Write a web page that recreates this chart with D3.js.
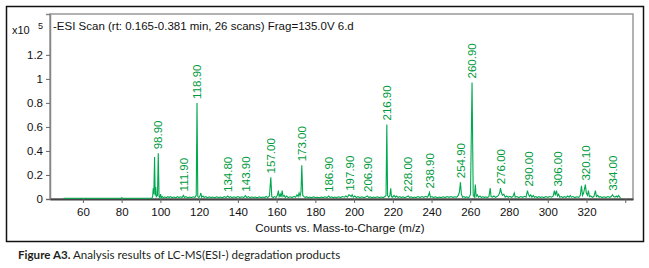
<!DOCTYPE html>
<html>
  <head>
    <meta charset="utf-8" />
    <title>LC-MS(ESI-) spectrum</title>
    <style>
      body { margin: 0; background: #fff; }
      svg text { font-family: Arial, "Liberation Sans", sans-serif; }
      .caption text { font-family: Lato, "Open Sans", sans-serif; }
    </style>
  </head>
  <body>
    <div id="chart-area"></div>

    <script type="text/javascript" src="https://d3js.org/d3.v7.min.js"></script>
    <script>
      // spectrum points (counts x10^5)
      const mz = [
        50, 79.8, 80.1, 80.4, 95.6, 96.0, 96.3, 96.6, 97.0, 97.3, 97.6, 97.9, 98.5, 98.9, 99.3, 99.7,
        100.1, 100.5, 101, 101.6, 102.3, 103, 103.8, 104.5, 105.2, 106, 107, 108, 108.8, 109.6, 110.5,
        111.2, 111.9, 112.4, 113.2, 114, 115, 116, 117, 117.8, 118.5, 118.9, 119.3, 119.9, 120.5, 120.9,
        121.3, 122, 122.6, 123.5, 124.3, 125.2, 126, 127, 128, 129, 130, 131, 132, 133, 133.8, 134.8,
        135.5, 136.3, 137, 138, 139, 140, 141, 142, 143, 143.9, 144.6, 145.5, 146.3, 147.2, 148, 149,
        150, 151, 152, 153, 153.8, 154.6, 155.4, 156.3, 157.0, 157.5, 158.2, 159, 159.7, 160.4, 160.9,
        161.3, 161.9, 162.3, 162.9, 163.3, 163.9, 164.5, 165.2, 166, 167, 168, 169, 169.8, 170.5, 171.1,
        171.6, 172.1, 172.6, 173.0, 173.5, 174.1, 174.8, 175.5, 176.3, 177, 178, 179, 180, 181, 182,
        183, 184, 185, 186, 186.9, 187.6, 188.4, 189.2, 190, 191, 192, 193, 194, 195, 195.8, 196.6,
        197.3, 197.9, 198.5, 199, 199.6, 200.4, 201.2, 202, 203, 204, 205, 206, 206.9, 207.6, 208.4,
        209.2, 210, 211, 212, 213, 214, 215, 216, 216.5, 216.9, 217.3, 217.9, 218.5, 218.9, 219.3,
        219.9, 220.6, 221.3, 222, 222.8, 223.6, 224.4, 225.2, 226, 227, 228, 228.7, 229.5, 230.3, 231,
        232, 233, 234, 235, 236, 237, 237.8, 238.4, 238.9, 239.4, 240.2, 241, 242, 243, 244, 245, 246,
        247, 248, 249, 250, 251, 252, 253, 253.8, 254.4, 254.9, 255.4, 256, 256.7, 257.5, 258.2, 259,
        259.6, 260.1, 260.9, 261.5, 262.1, 262.6, 263.0, 263.6, 264.2, 265, 265.7, 266.5, 267.3, 268,
        268.8, 269.6, 270.3, 270.7, 271.4, 272.2, 273, 273.8, 274.5, 275.1, 275.6, 276.1, 276.6, 277.3,
        278, 278.8, 279.6, 280.4, 281.2, 282, 282.7, 283.2, 284, 285, 286, 287, 288, 288.8, 289.5, 290,
        290.6, 291.2, 291.8, 292.5, 293.1, 293.8, 294.6, 295.4, 296.2, 297, 298, 299, 300, 301, 302,
        302.8, 303.4, 303.9, 304.5, 305, 305.6, 306.2, 307, 307.8, 308.6, 309.4, 310.2, 311, 311.6,
        312.2, 313, 314, 315, 316, 316.8, 317.4, 317.9, 318.5, 319.4, 319.9, 320.5, 321, 321.5, 322.2,
        323, 323.8, 324.6, 325.1, 325.8, 326.5, 327.2, 328, 329, 330, 331, 332, 332.8, 333.4, 334,
        334.7, 335.4, 336, 336.5, 337, 337.6
      ];
      const counts = [
        0.006, 0.006, 0.012, 0.006, 0.006, 0.02, 0.09, 0.04, 0.35, 0.03, 0.10, 0.02, 0.03, 0.38, 0.02, 0.01,
        0.04, 0.012, 0.02, 0.01, 0.018, 0.01, 0.02, 0.012, 0.02, 0.012, 0.016, 0.01, 0.02, 0.012, 0.018,
        0.012, 0.03, 0.012, 0.02, 0.01, 0.016, 0.012, 0.018, 0.012, 0.03, 0.80, 0.02, 0.012, 0.03, 0.05,
        0.015, 0.025, 0.012, 0.02, 0.01, 0.018, 0.012, 0.016, 0.01, 0.018, 0.012, 0.016, 0.01, 0.02, 0.012, 0.025,
        0.012, 0.02, 0.01, 0.018, 0.012, 0.02, 0.012, 0.018, 0.012, 0.028, 0.012, 0.02, 0.01, 0.018, 0.012, 0.016,
        0.01, 0.018, 0.012, 0.016, 0.012, 0.022, 0.012, 0.025, 0.18, 0.02, 0.012, 0.02, 0.012, 0.03, 0.07,
        0.02, 0.04, 0.015, 0.07, 0.02, 0.03, 0.012, 0.025, 0.012, 0.018, 0.012, 0.022, 0.015, 0.035, 0.02,
        0.05, 0.025, 0.06, 0.28, 0.03, 0.02, 0.012, 0.02, 0.01, 0.016, 0.01, 0.018, 0.012, 0.015, 0.01,
        0.016, 0.012, 0.018, 0.012, 0.025, 0.012, 0.018, 0.01, 0.016, 0.012, 0.018, 0.012, 0.02, 0.015, 0.025, 0.015,
        0.035, 0.03, 0.02, 0.035, 0.015, 0.025, 0.012, 0.02, 0.012, 0.018, 0.012, 0.016, 0.025, 0.012, 0.018,
        0.01, 0.016, 0.012, 0.018, 0.012, 0.016, 0.012, 0.02, 0.03, 0.62, 0.03, 0.015, 0.03, 0.09, 0.02,
        0.015, 0.03, 0.015, 0.025, 0.012, 0.02, 0.012, 0.018, 0.012, 0.016, 0.025, 0.012, 0.018, 0.01, 0.016,
        0.012, 0.02, 0.012, 0.02, 0.014, 0.022, 0.014, 0.03, 0.055, 0.015, 0.02, 0.012, 0.018, 0.01, 0.016, 0.012, 0.018,
        0.012, 0.02, 0.014, 0.02, 0.014, 0.018, 0.015, 0.03, 0.06, 0.14, 0.04, 0.015, 0.02, 0.012, 0.018, 0.012,
        0.02, 0.04, 0.97, 0.03, 0.015, 0.12, 0.02, 0.035, 0.015, 0.025, 0.012, 0.02, 0.012, 0.018,
        0.012, 0.02, 0.09, 0.02, 0.015, 0.025, 0.014, 0.02, 0.03, 0.05, 0.09, 0.05, 0.03, 0.04,
        0.015, 0.025, 0.014, 0.022, 0.014, 0.02, 0.05, 0.015, 0.02, 0.012, 0.02, 0.014, 0.022, 0.015, 0.07, 0.04,
        0.02, 0.035, 0.015, 0.03, 0.015, 0.02, 0.012, 0.02, 0.012, 0.018, 0.012, 0.02, 0.014, 0.02, 0.015,
        0.025, 0.07, 0.03, 0.07, 0.025, 0.04, 0.015, 0.02, 0.012, 0.02, 0.012, 0.025, 0.015, 0.03,
        0.015, 0.02, 0.012, 0.018, 0.014, 0.03, 0.11, 0.03, 0.05, 0.12, 0.05, 0.03, 0.07, 0.02, 0.025,
        0.014, 0.02, 0.07, 0.02, 0.03, 0.015, 0.02, 0.012, 0.018, 0.012, 0.02, 0.014, 0.02, 0.035, 0.02,
        0.015, 0.025, 0.015, 0.03, 0.02, 0.006
      ];

      // annotated peaks
      const peakLabels = ['98.90', '111.90', '118.90', '134.80', '143.90', '157.00', '173.00', '186.90',
        '197.90', '206.90', '216.90', '228.00', '238.90', '254.90', '260.90', '276.00', '290.00',
        '306.00', '320.10', '334.00'];
      const peakMz = [98.9, 111.9, 118.9, 134.8, 143.9, 157.0, 173.0, 186.9, 197.9, 206.9, 216.9,
        228.0, 238.9, 254.9, 260.9, 276.0, 290.0, 305.2, 319.6, 333.4];
      const peakCounts = [0.38, 0.03, 0.80, 0.025, 0.028, 0.18, 0.28, 0.025, 0.035, 0.025, 0.62,
        0.025, 0.055, 0.14, 0.97, 0.09, 0.07, 0.07, 0.12, 0.035];

      const xTicks = [60, 80, 100, 120, 140, 160, 180, 200, 220, 240, 260, 280, 300, 320, 340];
      const xTickLabels = ['60', '80', '100', '120', '140', '160', '180', '200', '220', '240', '260',
        '280', '300', '320', ''];
      const yTicks = [0, 0.2, 0.4, 0.6, 0.8, 1, 1.2];

      const title = '-ESI Scan (rt: 0.165-0.381 min, 26 scans) Frag=135.0V 6.d';
      const xLabel = 'Counts vs. Mass-to-Charge (m/z)';

      const W = 649, H = 268;
      const plot = { left: 50, top: 14, right: 633, bottom: 199 };
      const green = '#00a84f';
      const labelGreen = '#009a3c';

      const svg = d3.select('#chart-area').append('svg')
        .attr('width', W)
        .attr('height', H);

      // outer frame
      svg.append('rect')
        .attr('x', 6.5).attr('y', 6.5)
        .attr('width', 637).attr('height', 235)
        .attr('fill', 'none')
        .attr('stroke', '#111')
        .attr('stroke-width', 1.5);

      const xScale = d3.scaleLinear()
        .domain([43, 344])
        .range([plot.left, plot.right]);

      const yScale = d3.scaleLinear()
        .domain([0, 1.54])
        .range([plot.bottom, plot.top]);

      // plot box
      svg.append('rect')
        .attr('x', plot.left).attr('y', plot.top)
        .attr('width', plot.right - plot.left)
        .attr('height', plot.bottom - plot.top)
        .attr('fill', 'none')
        .attr('stroke', '#999')
        .attr('stroke-width', 1.5);

      // y axis
      const yAxis = svg.append('g')
        .attr('transform', `translate(${plot.left}, 0)`)
        .call(d3.axisLeft(yScale)
          .tickValues(yTicks)
          .tickFormat(d3.format('~g'))
          .tickSize(4)
          .tickPadding(3));
      yAxis.select('.domain').attr('stroke', '#888').attr('stroke-width', 1.5);
      yAxis.selectAll('.tick line').attr('stroke', '#666');
      yAxis.selectAll('text').attr('font-size', 11.5).attr('fill', '#111');

      // x axis
      const xAxis = svg.append('g')
        .attr('transform', `translate(0, ${plot.bottom})`)
        .call(d3.axisBottom(xScale)
          .tickValues(xTicks)
          .tickFormat((d, i) => xTickLabels[i])
          .tickSize(4)
          .tickPadding(5)
          .tickSizeOuter(0));
      xAxis.select('.domain').attr('stroke', '#444').attr('stroke-width', 2);
      xAxis.selectAll('.tick line').attr('stroke', '#666');
      xAxis.selectAll('text').attr('font-size', 11.5).attr('fill', '#111');

      // spectrum
      const points = mz.map((m, i) => [m, counts[i]]);
      svg.append('path')
        .datum(points)
        .attr('fill', 'none')
        .attr('stroke', green)
        .attr('stroke-width', 1.1)
        .attr('d', d3.line()
          .x(d => xScale(d[0]))
          .y(d => yScale(d[1])));

      // peak labels
      svg.append('g')
        .selectAll('text')
        .data(peakLabels)
        .join('text')
        .attr('transform', (d, i) =>
          `translate(${xScale(peakMz[i])}, ${yScale(peakCounts[i]) - 4}) rotate(-90)`)
        .attr('dy', '0.36em')
        .attr('font-size', 11.5)
        .attr('fill', labelGreen)
        .text(d => d);

      // title and multiplier
      svg.append('text')
        .attr('x', 53).attr('y', 30)
        .attr('font-size', 11.5)
        .attr('fill', '#111')
        .text(title);

      svg.append('text')
        .attr('x', 12).attr('y', 34)
        .attr('font-size', 11)
        .attr('fill', '#111')
        .text('x10');
      svg.append('text')
        .attr('x', 38).attr('y', 29)
        .attr('font-size', 9)
        .attr('fill', '#111')
        .text('5');

      svg.append('text')
        .attr('x', 340).attr('y', 232)
        .attr('text-anchor', 'middle')
        .attr('font-size', 11.5)
        .attr('fill', '#111')
        .text(xLabel);

      // caption below the frame
      const caption = svg.append('g').attr('class', 'caption')
        .append('text')
        .attr('x', 18).attr('y', 259)
        .attr('font-size', 11.6)
        .attr('fill', '#231f20');
      caption.append('tspan').attr('font-weight', 'bold').text('Figure A3.');
      caption.append('tspan').text(' Analysis results of LC-MS(ESI-) degradation products');
    </script>
  </body>
</html>
